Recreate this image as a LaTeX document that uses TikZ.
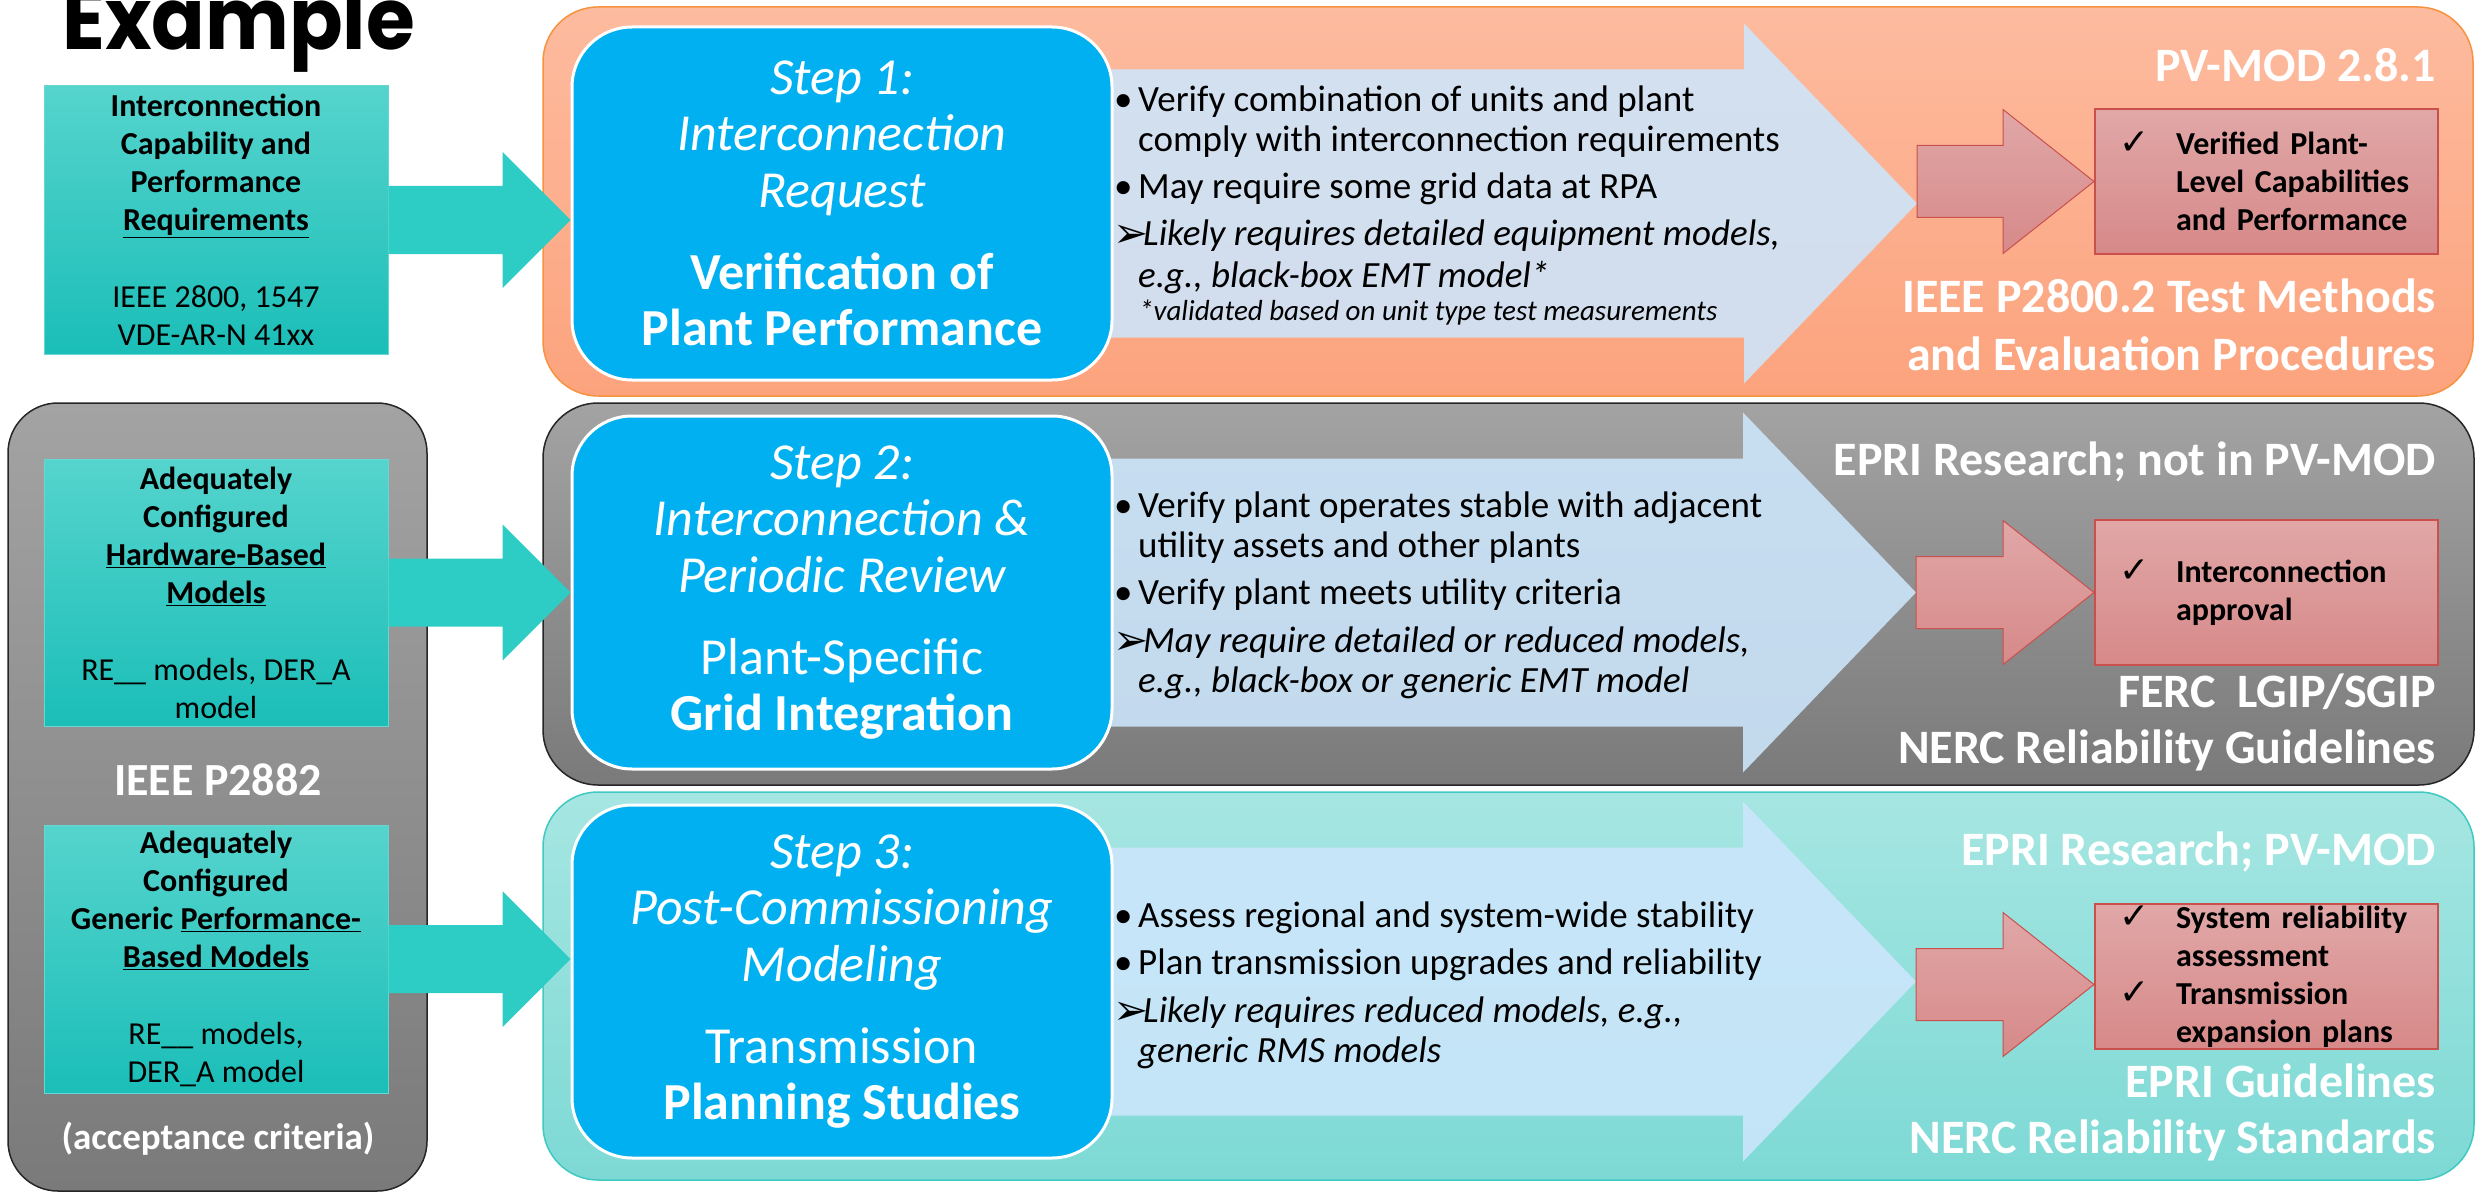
\documentclass[tikz,border=0pt]{standalone}
\usepackage{fontspec}
\setmainfont{Carlito}
\newfontfamily\symfont{DejaVu Sans}
\newfontfamily\titlefont[FakeStretch=0.92]{Poppins}
\usetikzlibrary{calc,positioning}

\definecolor{stepblue}{HTML}{00B0F0}
\definecolor{reqtop}{HTML}{55D4CD}
\definecolor{reqbot}{HTML}{1BBEB8}
\definecolor{reqline}{HTML}{66D8D1}
\definecolor{arrowteal}{HTML}{2DCCC5}
\definecolor{greytop}{HTML}{A3A3A3}
\definecolor{greybot}{HTML}{7A7A7A}
\definecolor{orangetop}{HTML}{FDBB9F}
\definecolor{orangebot}{HTML}{FCA37D}
\definecolor{orangeline}{HTML}{F7923F}
\definecolor{cyantop}{HTML}{A6E6E2}
\definecolor{cyanbot}{HTML}{7DD9D5}
\definecolor{cyanline}{HTML}{3FC9C1}
\definecolor{flowblue}{HTML}{CDE6FC}
\definecolor{resulttop}{HTML}{E1A7A7}
\definecolor{resultbot}{HTML}{D78989}
\definecolor{resultline}{HTML}{C9504D}

\newcommand{\bul}{\makebox[24pt][l]{•}}
\newcommand{\arr}{\makebox[27pt][l]{\hspace{-3pt}\symfont\upshape\fontsize{42}{42}\selectfont\raisebox{-2pt}{➢}}}
\newcommand{\chk}{\makebox[57pt][l]{\symfont\mdseries\fontsize{36}{36}\selectfont ✓}}

\tikzset{
  block arrow/.style n args={3}{to path={let \p1=(\tikztostart), \p2=(\tikztotarget) in
    (\x1,\y1+#1) -- (\x2-#3,\y1+#1) -- (\x2-#3,\y1+#2) -- (\x2,\y1)
    -- (\x2-#3,\y1-#2) -- (\x2-#3,\y1-#1) -- (\x1,\y1-#1) -- cycle}},
  outer box/.style={rounded corners=55pt, line width=1.5pt},
  stepbox/.style={fill=stepblue, draw=white, line width=3pt, rounded corners=60pt,
    minimum width=540pt, minimum height=353pt, inner sep=0pt, text=white,
    align=center, font=\fontsize{52}{56.5}\selectfont},
  reqbox/.style={top color=reqtop, bottom color=reqbot, draw=reqline, line width=1pt,
    minimum width=344pt, inner sep=0pt, align=center,
    font=\bfseries\fontsize{32}{38}\selectfont},
  resultbox/.style={top color=resulttop, bottom color=resultbot, draw=resultline,
    line width=2pt, minimum height=145pt, text width=295pt, inner xsep=24pt,
    inner ysep=0pt, align=left, font=\bfseries\fontsize{32}{38}\selectfont},
  teal arrow/.style={fill=arrowteal, block arrow={34pt}{68pt}{68pt}},
  flow arrow/.style={fill=flowblue, fill opacity=0.88, block arrow={134pt}{180pt}{173pt}},
  result arrow/.style={top color=resulttop, bottom color=resultbot, draw=resultline,
    line width=1pt, block arrow={36pt}{72pt}{91pt}},
  bullet text/.style={anchor=base west, inner sep=0pt, font=\fontsize{37}{40}\selectfont},
  label text/.style={anchor=base east, inner sep=0pt, text=white,
    font=\bfseries\fontsize{48}{58}\selectfont},
  side text/.style={text=white, inner sep=0pt},
}

\begin{document}
\begin{tikzpicture}[x=1pt, y=-1pt]
\useasboundingbox (0,0) rectangle (2476,1193);

\node[anchor=base west, inner sep=0pt, font=\titlefont\bfseries\fontsize{86}{86}\selectfont] (title) at (62,50) {Example};

% left column
\draw[rounded corners=50pt, top color=greytop, bottom color=greybot, draw=black!85, line width=1.5pt] (8,403) rectangle (427,1191);

\node[reqbox, minimum height=268pt] (req1) at (216,220) {Interconnection\\Capability and\\Performance\\\underline{Requirements}\\[39pt]\mdseries IEEE 2800, 1547\\\mdseries VDE-AR-N 41xx};
\node[reqbox, minimum height=267pt] (req2) at (216,592.5) {Adequately\\Configured\\\underline{Hardware-Based}\\\underline{Models}\\[39pt]\mdseries RE\_\_ models, DER\_A\\\mdseries model};
\node[reqbox, minimum height=268pt] (req3) at (216,959) {Adequately\\Configured\\Generic \underline{Performance-}\\\underline{Based Models}\\[39pt]\mdseries RE\_\_ models,\\\mdseries DER\_A model};

\node[side text, font=\bfseries\fontsize{46}{46}\selectfont] (p2882) at (218,780) {IEEE P2882};
\node[side text, font=\bfseries\fontsize{37}{37}\selectfont] (accept) at (218,1139) {(acceptance criteria)};

% the three rows
\draw[outer box, top color=orangetop, bottom color=orangebot, draw=orangeline] (543,7) rectangle (2473,396);
\draw[outer box, top color=greytop, bottom color=greybot, draw=black!85] (543,403) rectangle (2474,785);
\draw[outer box, top color=cyantop, bottom color=cyanbot, draw=cyanline] (543,792) rectangle (2474,1180);

\coordinate (c1) at (842,203.5);
\coordinate (t1) at (1917,203.5);
\coordinate (c2) at (842,592.5);
\coordinate (t2) at (1916,592.5);
\coordinate (c3) at (842,981.5);
\coordinate (t3) at (1916,982);

\foreach \i in {1,2,3}
  \path[flow arrow] (c\i) to (t\i);

\node[stepbox] (s1) at (c1) {\itshape Step 1:\\\itshape Interconnection\\\itshape Request\\[25.5pt]\bfseries Verification of\\\bfseries Plant Performance};
\node[stepbox] (s2) at (c2) {\itshape Step 2:\\\itshape Interconnection \&\\\itshape Periodic Review\\[25.5pt]Plant-Specific\\\bfseries Grid Integration};
\node[stepbox] (s3) at (c3) {\itshape Step 3:\\\itshape Post-Commissioning\\\itshape Modeling\\[25.5pt]Transmission\\\bfseries Planning Studies};

\path[teal arrow] (req1.east) to (req1.east -| s1.west);
\path[teal arrow] (req2.east) to (req2.east -| s2.west);
\path[teal arrow] (req3.east) to (req3.east -| s3.west);

% bullets
\foreach \px/\py/\txt [count=\i] in {1114/112/{\bul Verify combination of units and plant},
    1138/152/{comply with interconnection requirements},
    1114/199/{\bul May require some grid data at RPA},
    1116/245/{\arr\textit{Likely requires detailed equipment models,}},
    1138/287/{\textit{e.g., black-box EMT model*}}}
  \node[bullet text] (b1-\i) at (\px,\py) {\txt};
\node[bullet text, font=\itshape\fontsize{29}{29}\selectfont] (note1) at (1139,320) {*validated based on unit type test measurements};

\foreach \px/\py/\txt [count=\i] in {1114/517/{\bul Verify plant operates stable with adjacent},
    1138/557/{utility assets and other plants},
    1114/604/{\bul Verify plant meets utility criteria},
    1116/652/{\arr\textit{May require detailed or reduced models,}},
    1138/692/{\textit{e.g., black-box or generic EMT model}}}
  \node[bullet text] (b2-\i) at (\px,\py) {\txt};

\foreach \px/\py/\txt [count=\i] in {1114/927/{\bul Assess regional and system-wide stability},
    1114/974/{\bul Plan transmission upgrades and reliability},
    1116/1022/{\arr\textit{Likely requires reduced models, e.g.,}},
    1138/1062/{\textit{generic RMS models}}}
  \node[bullet text] (b3-\i) at (\px,\py) {\txt};

% results
\node[resultbox] (res1) at (2266.5,181.5) {\chk Verified Plant-\\\hspace*{57pt}Level Capabilities\\\hspace*{57pt}and Performance};
\node[resultbox] (res2) at (2266.5,592.5) {\chk Interconnection\\\hspace*{57pt}approval};
\node[resultbox] (res3) at (2266.5,976.5) {\chk System reliability\\\hspace*{57pt}assessment\\\chk Transmission\\\hspace*{57pt}expansion plans};

\path[result arrow] (t1 |- res1.west) to (res1.west);
\path[result arrow] (t2 |- res2.west) to (res2.west);
\path[result arrow] ($(t3 |- res3.west)+(0,8)$) to ($(res3.west)+(0,8)$);

% sources
\node[label text] (src1-1) at (2436,82) {PV-MOD 2.8.1};
\node[label text] (src1-2) at (2436,312) {IEEE P2800.2 Test Methods};
\node[label text] (src1-3) at (2436,370) {and Evaluation Procedures};
\node[label text] (src2-1) at (2436,475) {EPRI Research; not in PV-MOD};
\node[label text] (src2-2) at (2436,707) {FERC\ \ LGIP/SGIP};
\node[label text] (src2-3) at (2436,763) {NERC Reliability Guidelines};
\node[label text] (src3-1) at (2436,865) {EPRI Research; PV-MOD};
\node[label text] (src3-2) at (2436,1097) {EPRI Guidelines};
\node[label text] (src3-3) at (2436,1153) {NERC Reliability Standards};

\end{tikzpicture}
\end{document}
